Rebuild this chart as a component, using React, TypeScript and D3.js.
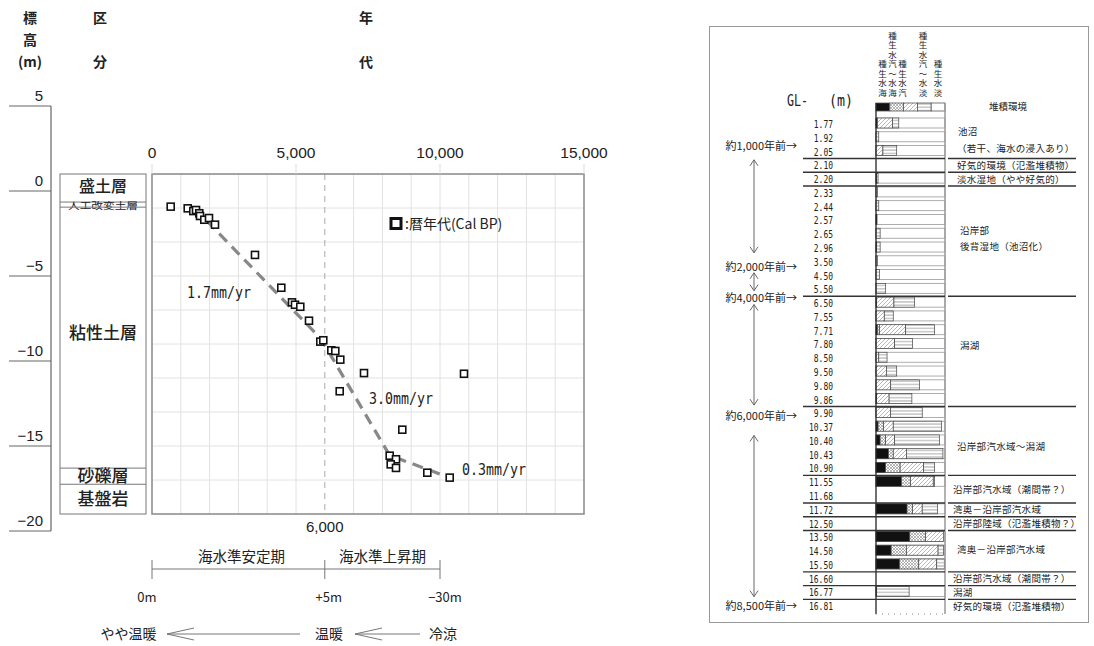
import React from 'react';
import * as d3 from 'd3';

// ---- left chart data (sample age vs elevation) ----
const ageBP = [649, 1240, 1434, 1528, 1642, 1667, 1816, 1979, 2188, 3576, 4490, 4861, 4965, 5149, 5451, 5844, 5948, 6226, 6365, 6538, 7361, 10833, 6517, 8691, 8253, 8472, 8288, 8472, 9559, 10337];
const elevation = [-0.92, -1.02, -1.18, -1.12, -1.31, -1.47, -1.69, -1.59, -1.98, -3.76, -5.69, -6.55, -6.69, -6.81, -7.63, -8.86, -8.78, -9.37, -9.41, -9.92, -10.71, -10.75, -11.78, -14.04, -15.57, -15.78, -16.08, -16.29, -16.57, -16.86];

const trendAge = [1900, 5870, 8250, 10340];
const trendElev = [-1.75, -8.7, -15.55, -16.86];
const rateLabels = ['1.7mm/yr', '3.0mm/yr', '0.3mm/yr'];
const rateAge = [1215, 7535, 10764];
const rateElev = [-6.0, -12.24, -16.4];

const elevTicks = [5, 0, -5, -10, -15, -20];
const ageTicks = [0, 5000, 10000, 15000];
const gridAges = d3.range(1000, 15000, 1000);
const gridElev = [-1, -3, -5, -7, -9, -11, -13, -15, -17];

const layerNames = ['盛土層', '人工改変土層', '粘性土層', '砂礫層', '基盤岩'];
const layerTop = [1, -0.65, -0.95, -16.3, -17.25];
const layerBottom = [-0.65, -0.95, -16.3, -17.25, -19];

const periodNames = ['海水準安定期', '海水準上昇期'];
const periodBounds = [0, 6000, 10000];
const seaLevelLabels = ['0m', '+5m', '−30m'];

// ---- right table data ----
const depths = ['1.77', '1.92', '2.05', '2.10', '2.20', '2.33', '2.44', '2.57', '2.65', '2.96', '3.50', '4.50', '5.50', '6.50', '7.55', '7.71', '7.80', '8.50', '9.50', '9.80', '9.86', '9.90', '10.37', '10.40', '10.43', '10.90', '11.55', '11.68', '11.72', '12.50', '13.50', '14.50', '15.50', '16.60', '16.77', '16.81'];
// percentages; null = no sample
const marine = [2, 0, 0, null, 1, 0, 0, 1.5, 0, 1, 0, 0, 0, 1, 0, 2, 0, 0, 0, 0, 1, 0, 3, 6, 18, 14, 37, null, 45, null, 49, 22, 34, null, 1, null];
const marineBrackish = [0, 0, 0, null, 0, 0, 0, 0, 0, 0, 0, 0, 0, 0, 0, 3, 0, 0, 0, 0, 0, 0, 8, 8, 7, 21, 13, null, 8, null, 23, 22, 28, null, 0, null];
const brackish = [22, 0, 10, null, 0, 0, 0, 0, 0, 0, 0, 0, 0, 25, 12, 38, 27, 4, 15, 21, 18, 21, 14, 13, 19, 34, 33, null, 14, null, 26, 46, 26, null, 0, null];
const freshBrackish = [9, 4, 20, null, 2, 2, 4, 0, 6, 5, 2, 5, 14, 30, 13, 42, 26, 12, 15, 42, 33, 46, 70, 65, 53, 16, 2, null, 22, null, 0, 8, 11, null, 47, null];

const groupBreaks = [2, 3, 4, 12, 20, 25, 27, 28, 29, 32, 33, 34];
const envLabels = ['池沼', '（若干、海水の浸入あり）', '好気的環境（氾濫堆積物）', '淡水湿地（やや好気的）', '沿岸部', '後背湿地（池沼化）', '潟湖', '沿岸部汽水域～潟湖', '沿岸部汽水域（潮間帯？）', '湾奥－沿岸部汽水域', '沿岸部陸域（氾濫堆積物？）', '湾奥－沿岸部汽水域', '沿岸部汽水域（潮間帯？）', '潟湖', '好気的環境（氾濫堆積物）'];
const envRow = [0.58, 1.8, 3, 4, 7.76, 8.9, 16.1, 23.4, 26.5, 28, 29, 30.9, 33, 34, 35];
const envIndent = [958, 957, 957, 957, 960, 960, 960, 957, 953, 953, 953, 957, 953, 953, 953];

const eraLabels = ['約1,000年前→', '約2,000年前→', '約4,000年前→', '約6,000年前→', '約8,500年前→'];
const eraRow = [1.6, 10.36, 12.6, 21.2, 35];
const eraSpans = [[2.6, 9.35], [10.8, 12.1], [13.1, 20.4], [22.6, 34.3]];

const speciesKeys = ['marine', 'marineBrackish', 'brackish', 'freshBrackish', 'fresh'];
const speciesNames = ['海水生種', '海水～汽水生種', '汽水生種', '淡水～汽水生種', '淡水生種'];
const speciesFill = ['#111', 'url(#cross)', 'url(#diag)', 'url(#hline)', '#fff'];
const headerX = [882.5, 892.5, 902.5, 923, 938];

const JP = '"Noto Sans CJK JP", "Noto Sans", sans-serif';
const MONO = '"DejaVu Sans Mono", "Liberation Mono", monospace';

export default function App() {
  const x = d3.scaleLinear().domain([0, 15000]).range([152, 584]);
  const y = d3.scaleLinear().domain([5, -20]).range([106, 531]);
  const fmtAge = d3.format(',');
  const fmtElev = d3.format('');

  const trend = d3.line<number>().x((d, i) => x(trendAge[i])).y((d, i) => y(trendElev[i]))(trendAge);

  const rowY = d3.scalePoint<string>().domain(depths).range([124, 606.3]);
  const pitch = rowY.step();
  const rowAt = (r: number) => 124 + r * pitch;
  const bx = d3.scaleLinear().domain([0, 100]).range([876, 945]);

  const rows = depths
    .map((depth, i) => ({ depth, i, marine: marine[i], marineBrackish: marineBrackish[i], brackish: brackish[i], freshBrackish: freshBrackish[i] }))
    .filter(r => r.marine !== null)
    .map(r => ({ ...r, fresh: Math.max(0, 100 - (r.marine as number) - (r.marineBrackish as number) - (r.brackish as number) - (r.freshBrackish as number)) }));
  const stacked = d3.stack<any>().keys(speciesKeys)(rows);

  const barH = 10;
  const hdrFs = 8.5;

  return (
    <svg width={1094} height={646} style={{ position: 'absolute', left: 0, top: 0, background: '#fff' }}>
      <defs>
        <pattern id="cross" width="3" height="3" patternUnits="userSpaceOnUse">
          <rect width="3" height="3" fill="#fff" />
          <path d="M0,0L3,3M3,0L0,3" stroke="#888" strokeWidth="0.6" />
        </pattern>
        <pattern id="diag" width="4" height="4" patternUnits="userSpaceOnUse">
          <rect width="4" height="4" fill="#fff" />
          <path d="M-1,1L1,-1M0,4L4,0M3,5L5,3" stroke="#999" strokeWidth="0.7" />
        </pattern>
        <pattern id="hline" width="4" height="3.3" patternUnits="userSpaceOnUse">
          <rect width="4" height="3.3" fill="#fff" />
          <path d="M0,1.65L4,1.65" stroke="#777" strokeWidth="0.7" />
        </pattern>
      </defs>
      <rect width={1094} height={646} fill="#fff" />

      {/* headers */}
      <g fontFamily={JP} fontWeight="bold" fontSize="14" fill="#222" textAnchor="middle">
        <text x={30} y={23}>標</text>
        <text x={30} y={45}>高</text>
        <text x={30} y={67}>(m)</text>
        <text x={100} y={23}>区</text>
        <text x={100} y={67}>分</text>
        <text x={366} y={23}>年</text>
        <text x={366} y={67}>代</text>
      </g>

      {/* elevation axis */}
      <line x1={51} x2={51} y1={y(5)} y2={y(-20)} stroke="#666" strokeWidth={1.2} />
      {elevTicks.map(t => (
        <g key={t}>
          <line x1={9} x2={51} y1={y(t)} y2={y(t)} stroke="#666" strokeWidth={1.2} />
          <text x={43} y={y(t) - 5} textAnchor="end" fontFamily='"Liberation Sans", Arial, sans-serif' fontSize="15" fill="#222">{fmtElev(t)}</text>
        </g>
      ))}

      {/* layer column */}
      <rect x={60} y={y(1)} width={86} height={y(-19) - y(1)} fill="none" stroke="#777" strokeWidth={1} />
      {layerNames.map((name, i) => {
        const top = y(layerTop[i]);
        const bot = y(layerBottom[i]);
        const small = i === 1;
        const mid = i === 0 ? (top + bot) / 2 - 1.5 : i === 1 ? (top + bot) / 2 + 0.5 : i === 2 ? (top + bot) / 2 - 5 : (top + bot) / 2;
        return (
          <g key={name}>
            {i > 0 && <line x1={60} x2={146} y1={top} y2={top} stroke="#777" strokeWidth={1} />}
            <text x={103} y={mid} dy="0.36em" textAnchor="middle" fontFamily={JP} fontSize={small ? 9.5 : i === 0 ? 16 : 17} fontWeight={small ? 400 : 500} fill="#222"
              {...(small ? { textLength: 70, lengthAdjust: 'spacingAndGlyphs' } : {})}>{name}</text>
          </g>
        );
      })}

      {/* scatter frame and grid */}
      {gridAges.filter(a => a !== 6000).map(a => (
        <line key={'ga' + a} x1={x(a)} x2={x(a)} y1={y(1)} y2={y(-19)} stroke="#e2e2e2" strokeWidth={1} />
      ))}
      {gridElev.map(e => (
        <line key={'ge' + e} x1={x(0)} x2={x(15000)} y1={y(e)} y2={y(e)} stroke="#e2e2e2" strokeWidth={1} />
      ))}
      <line x1={x(6000)} x2={x(6000)} y1={y(1)} y2={y(-19)} stroke="#aaa" strokeWidth={1} strokeDasharray="6,5" />
      <rect x={x(0)} y={y(1)} width={x(15000) - x(0)} height={y(-19) - y(1)} fill="none" stroke="#888" strokeWidth={1.5} />
      {ageTicks.map(a => (
        <g key={'at' + a}>
          <line x1={x(a)} x2={x(a)} y1={y(1) - 10} y2={y(1)} stroke="#ddd" strokeWidth={1} />
          <text x={x(a)} y={158} textAnchor="middle" fontFamily='"Liberation Sans", Arial, sans-serif' fontSize="15.5" fill="#222">{fmtAge(a)}</text>
        </g>
      ))}
      <text x={x(6000)} y={532} textAnchor="middle" fontFamily='"Liberation Sans", Arial, sans-serif' fontSize="15" fill="#222">{fmtAge(6000)}</text>

      {/* trend line */}
      <path d={trend || ''} fill="none" stroke="#888" strokeWidth={3.2} strokeDasharray="11,7" />
      {rateLabels.map((l, i) => (
        <text key={l} x={x(rateAge[i])} y={y(rateElev[i])} dy="0.36em" fontFamily={MONO} fontSize="15" fill="#222" textLength={64} lengthAdjust="spacingAndGlyphs">{l}</text>
      ))}

      {/* samples */}
      {ageBP.map((a, i) => (
        <rect key={'p' + i} x={x(a) - 3.5} y={y(elevation[i]) - 3.5} width={7} height={7} fill="#fff" stroke="#111" strokeWidth={1.6} />
      ))}

      {/* legend */}
      <rect x={391} y={218.5} width={10} height={10} fill="#fff" stroke="#111" strokeWidth={3} />
      <text x={405} y={224} dy="0.36em" fontFamily={JP} fontSize="14" fill="#222">:暦年代(Cal BP)</text>

      {/* periods */}
      <line x1={x(periodBounds[0])} x2={x(periodBounds[2])} y1={569} y2={569} stroke="#777" strokeWidth={1} />
      {periodBounds.map(b => (
        <line key={'pb' + b} x1={x(b)} x2={x(b)} y1={560} y2={579} stroke="#777" strokeWidth={1} />
      ))}
      {periodNames.map((n, i) => (
        <text key={n} x={(x(periodBounds[i]) + x(periodBounds[i + 1])) / 2 + (i === 0 ? 3 : 0)} y={557} dy="0.36em" textAnchor="middle" fontFamily={JP} fontSize="14.5" fill="#222">{n}</text>
      ))}
      {seaLevelLabels.map((l, i) => (
        <text key={l} x={x(periodBounds[i]) + [-5, 4, 5][i]} y={597} dy="0.36em" textAnchor="middle" fontFamily={JP} fontSize="13" fill="#222">{l}</text>
      ))}

      {/* climate arrows */}
      <g fontFamily={JP} fontSize="14" fill="#222">
        <text x={128.5} y={634} dy="0.36em" textAnchor="middle">やや温暖</text>
        <text x={329} y={634} dy="0.36em" textAnchor="middle">温暖</text>
        <text x={443} y={634} dy="0.36em" textAnchor="middle">冷涼</text>
      </g>
      <g fill="none" stroke="#777" strokeWidth={1}>
        <path d="M167,634L300,634M167,634L194,628M167,634L194,640" />
        <path d="M355,634L420,634M355,634L382,628M355,634L382,640" />
      </g>

      {/* ================= right table ================= */}
      <rect x={709.5} y={26.5} width={379} height={596} fill="none" stroke="#999" strokeWidth={1} />

      {/* column headers: upright glyphs stacked bottom-to-top */}
      {speciesNames.map((n, k) => (
        <text key={n} transform={`translate(${headerX[k] - hdrFs / 2},96) rotate(-90)`} rotate="90"
          fontFamily={JP} fontSize={hdrFs} letterSpacing="1" fill="#222">{n}</text>
      ))}
      {speciesFill.map((f, k) => (
        <rect key={'sw' + k} x={876 + k * 13.8} y={103} width={13.8} height={8} fill={f} stroke="#555" strokeWidth={0.8} />
      ))}
      <text x={787} y={101} dy="0.36em" fontFamily={MONO} fontSize="15" fill="#222" textLength={21} lengthAdjust="spacingAndGlyphs">GL-</text>
      <text x={829} y={101} dy="0.36em" fontFamily={MONO} fontSize="15" fill="#222" textLength={24} lengthAdjust="spacingAndGlyphs">(m)</text>
      <text x={1008} y={107} dy="0.36em" textAnchor="middle" fontFamily={JP} fontSize="9.5" fill="#222">堆積環境</text>

      {/* depth labels */}
      {depths.map(d => (
        <text key={'d' + d} x={833} y={rowY(d)} dy="0.36em" textAnchor="end" fontFamily={MONO} fontSize="11" fill="#222"
          textLength={d.length * 4.8} lengthAdjust="spacingAndGlyphs">{d}</text>
      ))}

      {/* bars */}
      {rows.map(r => (
        <rect key={'bg' + r.depth} x={bx(0)} y={(rowY(r.depth) as number) - barH / 2 - 1} width={bx(100) - bx(0)} height={barH} fill="#fff" stroke="#999" strokeWidth={0.8} />
      ))}
      {stacked.map((series, k) => (
        <g key={'s' + k}>
          {series.map((seg: any) => {
            const w = bx(seg[1]) - bx(seg[0]);
            if (w <= 0.01 || k === 4) return null;
            return (
              <rect key={seg.data.depth} x={bx(seg[0])} y={(rowY(seg.data.depth) as number) - barH / 2 - 1} width={w} height={barH}
                fill={speciesFill[k]} stroke="#444" strokeWidth={0.7} />
            );
          })}
        </g>
      ))}
      <line x1={876} x2={876} y1={103} y2={614} stroke="#222" strokeWidth={1.3} />
      <line x1={945} x2={945} y1={103} y2={614} stroke="#999" strokeWidth={1.5} />
      <line x1={876} x2={945} y1={614} y2={614} stroke="#888" strokeWidth={1} strokeDasharray="1,5" />

      {/* group separators */}
      {groupBreaks.map(b => {
        const yy = rowAt(b + 0.5);
        return (
          <g key={'gb' + b} stroke="#333" strokeWidth={1.4}>
            <line x1={803} x2={945} y1={yy} y2={yy} />
            <line x1={948} x2={1076} y1={yy} y2={yy} />
          </g>
        );
      })}

      {/* environment labels */}
      {envLabels.map((l, i) => (
        <text key={'env' + i} x={envIndent[i]} y={rowAt(envRow[i])} dy="0.36em" fontFamily={JP} fontSize="9.5" fill="#222" letterSpacing="0.3">{l}</text>
      ))}

      {/* era labels and arrows */}
      {eraLabels.map((l, i) => (
        <text key={l} x={797} y={rowAt(eraRow[i])} dy="0.36em" textAnchor="end" fontFamily={JP} fontSize="11" fill="#222">{l}</text>
      ))}
      <g fill="none" stroke="#666" strokeWidth={1}>
        {eraSpans.map(([a, b], i) => {
          const y1 = rowAt(a);
          const y2 = rowAt(b);
          return (
            <path key={'ea' + i} d={`M754,${y1}L754,${y2}M750,${y1 + 6}L754,${y1}L758,${y1 + 6}M750,${y2 - 6}L754,${y2}L758,${y2 - 6}`} />
          );
        })}
      </g>
    </svg>
  );
}
